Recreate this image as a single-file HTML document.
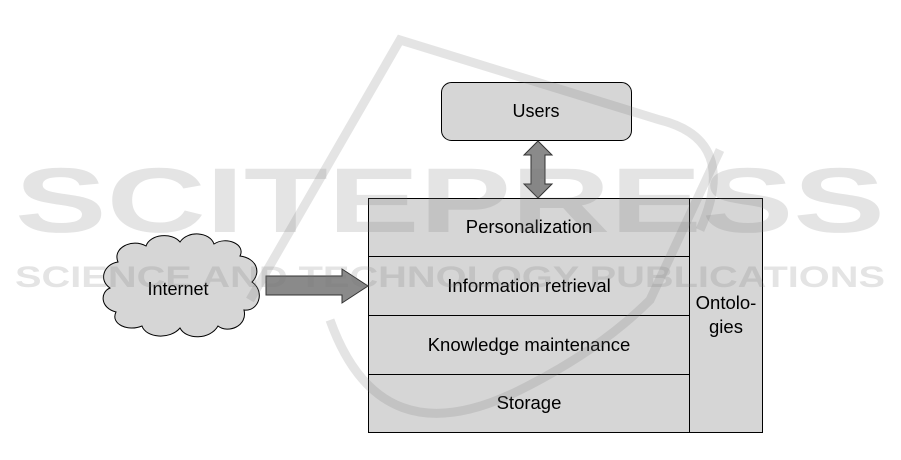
<!DOCTYPE html>
<html><head><meta charset="utf-8"><style>
html,body{margin:0;padding:0;background:#fff;}
svg{display:block;}
text{font-family:"Liberation Sans",Arial,sans-serif;}
</style></head><body>
<svg width="901" height="460" viewBox="0 0 901 460" xmlns="http://www.w3.org/2000/svg">
<rect x="441.5" y="82.5" width="190" height="58" rx="10" fill="#d6d6d6" stroke="#000" stroke-width="1"/>
<text x="536" y="117" font-size="18" text-anchor="middle">Users</text>
<polygon points="538,141 552,155 545,155 545,184 552,184 538,198 524,184 531,184 531,155 524,155" fill="#8a8a8a" stroke="#333" stroke-width="1"/>
<rect x="368.5" y="198.5" width="394" height="234" fill="#d6d6d6" stroke="#000"/>
<line x1="689.5" y1="198" x2="689.5" y2="432" stroke="#000"/>
<line x1="368" y1="256.5" x2="689" y2="256.5" stroke="#000"/>
<line x1="368" y1="315.5" x2="689" y2="315.5" stroke="#000"/>
<line x1="368" y1="374.5" x2="689" y2="374.5" stroke="#000"/>
<text x="529" y="233" font-size="18.5" text-anchor="middle">Personalization</text>
<text x="529" y="292" font-size="18.5" text-anchor="middle">Information retrieval</text>
<text x="529" y="351" font-size="18.5" text-anchor="middle">Knowledge maintenance</text>
<text x="529" y="409" font-size="18.5" text-anchor="middle">Storage</text>
<text x="726" y="309" font-size="18.5" text-anchor="middle">Ontolo-</text>
<text x="726" y="333" font-size="18.5" text-anchor="middle">gies</text>
<path d="M118,262 C112,248 132,238 146,246 C150,234 172,232 180,242 C188,230 210,232 214,244 C226,236 246,244 240,256 C256,258 262,272 252,282 C266,292 258,312 244,310 C248,326 228,334 218,326 C210,340 186,340 180,328 C170,340 146,338 142,326 C128,332 110,324 116,312 C100,308 100,292 110,288 C98,280 104,264 118,262 Z" fill="#d6d6d6" stroke="#000"/>
<text x="178" y="295" font-size="18" text-anchor="middle">Internet</text>
<polygon points="266,276 342,276 342,269 368,286 342,303 342,295 266,295" fill="#8a8a8a" stroke="#333"/>
<g fill="rgba(120,120,120,0.2)">
<text x="15" y="232" font-size="92" font-weight="bold" textLength="870" lengthAdjust="spacingAndGlyphs">SCITEPRESS</text>
<text x="15" y="287" font-size="30" font-weight="bold" textLength="870" lengthAdjust="spacingAndGlyphs">SCIENCE AND TECHNOLOGY PUBLICATIONS</text>
</g>
<g fill="none" stroke="rgba(120,120,120,0.2)" stroke-width="9">
<path d="M250,300 L400,40 L660,120 Q740,140 700,230"/>
<path d="M330,320 Q380,460 520,390 Q600,350 650,300 L720,150"/>
</g>
</svg>
</body></html>
